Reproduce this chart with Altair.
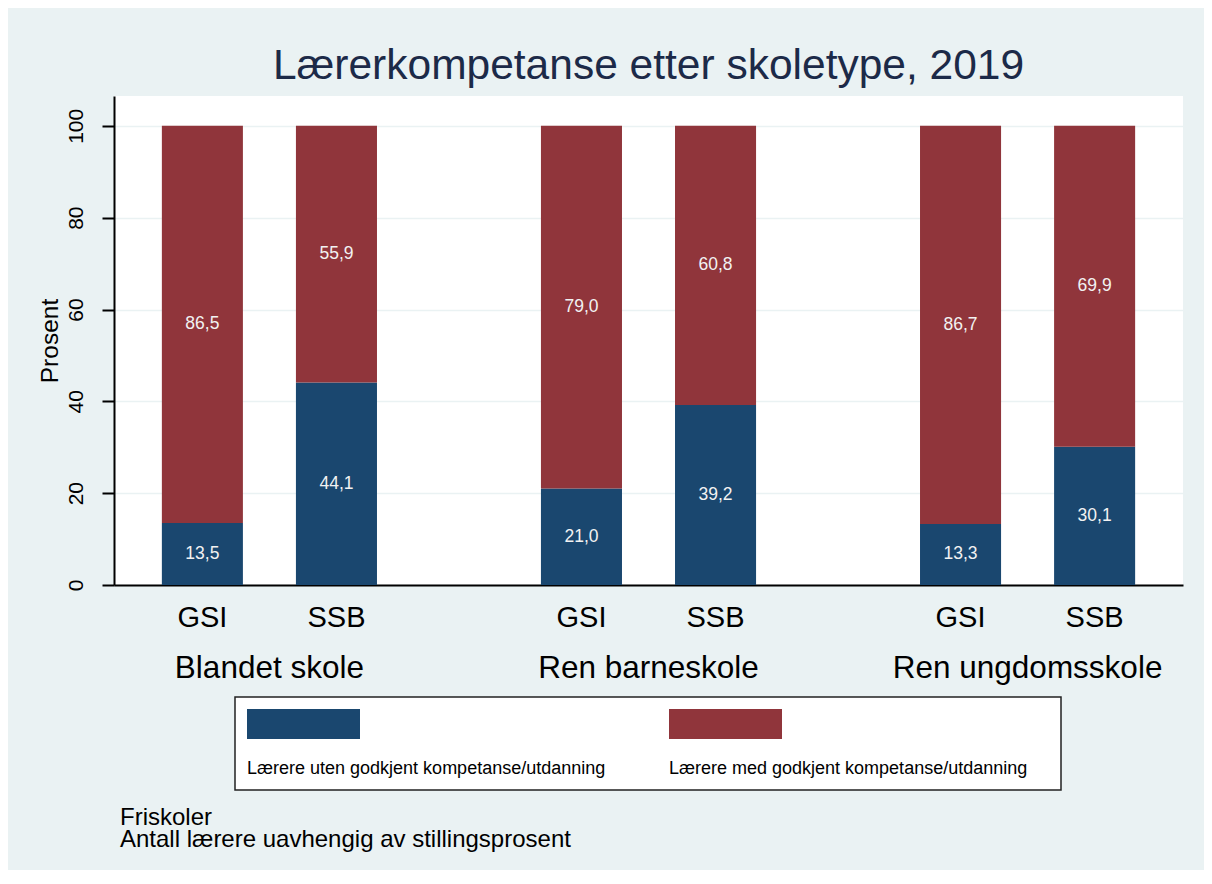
import altair as alt
import pandas as pd

groups = ["Blandet skole", "Ren barneskole", "Ren ungdomsskole"]
sources = ["GSI", "SSB"]
categories = ["Lærere uten godkjent kompetanse/utdanning",
              "Lærere med godkjent kompetanse/utdanning"]
uten = [13.5, 44.1, 21.0, 39.2, 13.3, 30.1]
med = [86.5, 55.9, 79.0, 60.8, 86.7, 69.9]
colors = ["#1A476F", "#90353B"]
y_ticks = [0, 20, 40, 60, 80, 100]
title_text = "Lærerkompetanse etter skoletype, 2019"
notes = ["Friskoler", "Antall lærere uavhengig av stillingsprosent"]

rows = []
i = 0
for g in groups:
    for s in sources:
        rows.append({"group": g, "source": s, "cat": categories[0], "value": uten[i], "order": 0})
        rows.append({"group": g, "source": s, "cat": categories[1], "value": med[i], "order": 1})
        i += 1
df = pd.DataFrame(rows)

FONT = "Liberation Sans"
BG = "#EAF2F3"

base = alt.Chart(df).transform_stack(
    stack="value", groupby=["group", "source"], as_=["v0", "v1"],
    sort=[alt.SortField("order", order="ascending")]
).transform_calculate(
    mid="(datum.v0 + datum.v1) / 2",
    lbl="replace(format(datum.value, '.1f'), '.', ',')"
)

x_enc = alt.X("group:N", sort=groups,
              scale=alt.Scale(paddingInner=0.18, paddingOuter=0),
              axis=alt.Axis(title=None, ticks=False, labelFontSize=31.5, labelFont=FONT,
                            labelColor="black", labelBaseline="alphabetic", labelPadding=92,
                            labelLimit=2000, labelAngle=0, domainColor="black", domainWidth=2,
                            grid=False))
xo_enc = alt.XOffset("source:N", sort=sources,
                     scale=alt.Scale(paddingInner=0.3955, paddingOuter=0.357))
y_scale = alt.Scale(domain=[0, 106.5], nice=False, zero=True)

# swatch drawn above the label; a zero-length tail widens the entry box
swatch_path = "M-1,-6H10.3V-3H-1Z M37,0L37,0"

bars = base.mark_bar(strokeWidth=0).encode(
    x=x_enc,
    xOffset=xo_enc,
    y=alt.Y("v0:Q", scale=y_scale,
            axis=alt.Axis(title="Prosent", values=y_ticks, labelAngle=270, labelFontSize=21,
                          labelFont=FONT, labelColor="black", labelPadding=16, tickSize=12,
                          tickColor="black", tickWidth=2, domainColor="black", domainWidth=2,
                          gridColor=BG, gridWidth=1.5, titleFontSize=24.5, titleFont=FONT,
                          titleFontWeight="normal", titleColor="black", titlePadding=3)),
    y2="v1:Q",
    color=alt.Color("cat:N", sort=categories,
                    scale=alt.Scale(domain=categories, range=colors),
                    legend=alt.Legend(title=" ", titleFontSize=10, titlePadding=40,
                                      orient="none", legendX=121, legendY=601,
                                      direction="horizontal", columns=2, columnPadding=42,
                                      symbolType=swatch_path, symbolSize=400,
                                      symbolStrokeWidth=0, symbolOpacity=1,
                                      labelOffset={"expr": "-20"}, labelFontSize=18,
                                      labelFont=FONT, labelColor="black",
                                      labelBaseline="middle", labelLimit=2000, padding=12,
                                      fillColor="white", strokeColor="#222222")),
)

values = base.mark_text(fontSize=17.5, font=FONT, color="#F2F2F2", baseline="middle").encode(
    x=alt.X("group:N", sort=groups),
    xOffset=alt.XOffset("source:N", sort=sources),
    y=alt.Y("mid:Q"),
    text="lbl:N",
)

src_labels = base.transform_filter(alt.datum.order == 0).mark_text(
    fontSize=29, font=FONT, color="black", baseline="alphabetic", align="center"
).encode(
    x=alt.X("group:N", sort=groups),
    xOffset=alt.XOffset("source:N", sort=sources),
    y=alt.value(531),
    text="source:N",
)

note = alt.Chart(pd.DataFrame({"k": [0]})).mark_text(
    fontSize=24, font=FONT, color="black", baseline="alphabetic", align="left", lineHeight=22
).encode(x=alt.value(6), y=alt.value(729), text=alt.value(notes))

chart = alt.layer(bars, values, src_labels, note).properties(
    width=1069, height=489,
    title=alt.TitleParams(title_text, fontSize=42.5, font=FONT, color="#1C2A48",
                          anchor="middle", offset=16, dy=41, baseline="alphabetic",
                          fontWeight="normal"),
    autosize=alt.AutoSizeParams(type="none"),
    padding={"left": 106, "top": 88, "right": 21, "bottom": 285},
    background=BG,
).configure_view(fill="white", stroke=None).configure_legend(strokeWidth=1.5)

chart.save("out.html", embed_options={"renderer": "svg", "actions": False})
